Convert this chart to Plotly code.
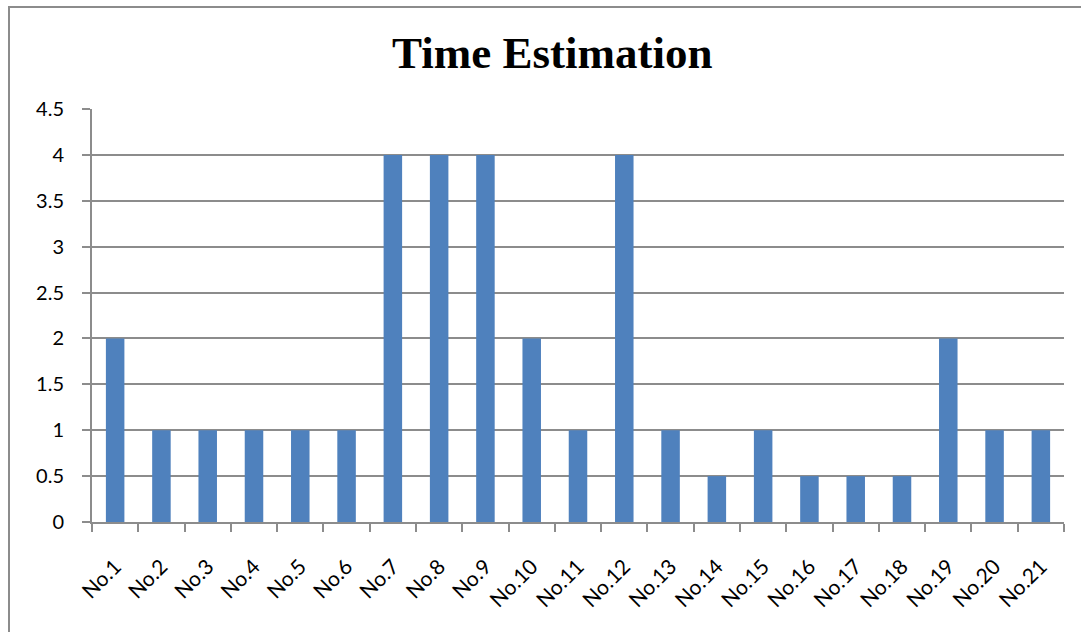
import plotly.graph_objects as go

# Estimated time per item
categories = [f"No.{i}" for i in range(1, 22)]
values = [2, 1, 1, 1, 1, 1, 4, 4, 4, 2, 1, 4, 1, 0.5, 1, 0.5, 0.5, 0.5, 2, 1, 1]
y_ticks = [0, 0.5, 1, 1.5, 2, 2.5, 3, 3.5, 4, 4.5]
y_tick_text = ["0", "0.5", "1", "1.5", "2", "2.5", "3", "3.5", "4", "4.5"]

W, H = 1081, 632
L, R, T, B = 92, 17, 109, 110

GRID = "#8c8c8c"
BAR = "#4F81BD"

fig = go.Figure(
    go.Bar(
        x=categories,
        y=values,
        marker=dict(color=BAR, line=dict(width=0)),
        width=0.4,
    )
)

# chart frame (left and top edges) in paper coordinates
pw = W - L - R
ph = H - T - B
def px_x(p):
    return (p - L) / pw
def px_y(p):
    return (H - B - p) / ph

fig.add_shape(type="line", xref="paper", yref="paper",
              x0=px_x(9), x1=px_x(9), y0=px_y(640), y1=px_y(7),
              line=dict(color=GRID, width=2))
fig.add_shape(type="line", xref="paper", yref="paper",
              x0=px_x(8), x1=px_x(1090), y0=px_y(7), y1=px_y(7),
              line=dict(color=GRID, width=2))

fig.add_annotation(
    text="<b>Time Estimation</b>", xref="paper", yref="paper",
    x=px_x(552), y=px_y(53), xanchor="center", yanchor="middle",
    showarrow=False,
    font=dict(family="Liberation Serif", size=45, color="black"),
)

fig.update_layout(
    width=W, height=H,
    margin=dict(l=L, r=R, t=T, b=B),
    paper_bgcolor="white", plot_bgcolor="white",
    showlegend=False,
    font=dict(family="Lato, Open Sans, sans-serif", size=20, color="black"),
)
fig.update_xaxes(
    type="category",
    tickangle=-45,
    tickson="boundaries",
    ticks="outside", ticklen=8, tickcolor=GRID, tickwidth=2,
    showline=True, linecolor=GRID, linewidth=2,
    showgrid=False,
    tickfont=dict(size=21),
    ticklabelstandoff=22,
)
fig.update_yaxes(
    range=[0, 4.5],
    tickvals=y_ticks, ticktext=y_tick_text,
    ticks="outside", ticklen=8, tickcolor=GRID, tickwidth=2,
    showline=True, linecolor=GRID, linewidth=2,
    showgrid=True, gridcolor=GRID, gridwidth=2,
    zeroline=False,
    tickfont=dict(size=20),
    ticklabelstandoff=14,
)

fig.write_html("out.html")
